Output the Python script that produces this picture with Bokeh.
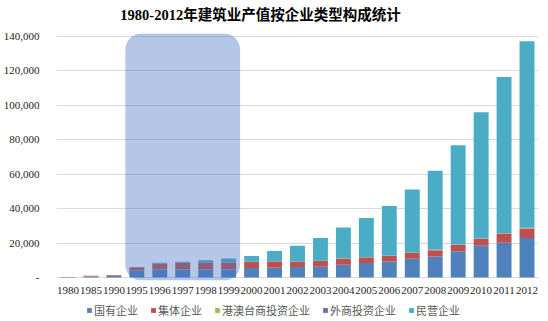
from bokeh.plotting import figure
from bokeh.layouts import column
from bokeh.models import (FactorRange, Range1d, Legend, LegendItem, BoxAnnotation, Label,
                          NumeralTickFormatter, FixedTicker)
from bokeh.embed import file_html
from bokeh.resources import INLINE

title_text = "1980-2012年建筑业产值按企业类型构成统计"

years = ["1980", "1985", "1990", "1995", "1996", "1997", "1998", "1999", "2000", "2001",
         "2002", "2003", "2004", "2005", "2006", "2007", "2008", "2009", "2010", "2011", "2012"]

state_owned = [200, 600, 800, 4050, 4650, 4700, 4700, 4600, 5450, 5650,
               6050, 6200, 7400, 8400, 9300, 10850, 12200, 15300, 18400, 20150, 22900]
collective = [90, 400, 550, 1900, 3500, 3700, 4000, 4100, 3650, 3650,
              3050, 3500, 3650, 3250, 3300, 3500, 3700, 3700, 3900, 5200, 5500]
hk_mo_tw = [0, 0, 0, 0, 0, 50, 50, 50, 50, 50,
            50, 50, 100, 100, 100, 100, 150, 150, 200, 300, 400]
foreign = [0, 0, 0, 0, 0, 50, 50, 50, 50, 50,
           50, 50, 100, 100, 100, 100, 150, 150, 150, 200, 300]
private = [0, 0, 0, 100, 400, 600, 1200, 2300, 3300, 5950,
           9300, 13200, 17750, 22700, 28700, 36500, 45800, 57500, 73350, 90600, 108100]

series_names = ["国有企业", "集体企业", "港澳台商投资企业", "外商投资企业", "民营企业"]
series_keys = ["state_owned", "collective", "hk_mo_tw", "foreign", "private"]
colors = ["#4f81bd", "#c0504d", "#9bbb59", "#8064a2", "#4bacc6"]
highlight_years = ["1995", "1999"]

y_max = 140000
y_step = 20000

data = dict(years=years, state_owned=state_owned, collective=collective,
            hk_mo_tw=hk_mo_tw, foreign=foreign, private=private)

BL, BR = 53, 10

# header strip with the title
p0 = figure(width=548, height=29, output_backend="svg", toolbar_location=None,
            x_range=Range1d(0, 1), y_range=Range1d(0, 1),
            x_axis_location=None, y_axis_location=None,
            min_border_left=BL, min_border_right=BR, min_border_top=0, min_border_bottom=0)
p0.outline_line_color = None
p0.grid.grid_line_color = None
p0.add_layout(Label(x=257 - BL, y=15, x_units="screen", y_units="screen", text=title_text,
                    text_align="center", text_baseline="middle",
                    text_font="Liberation Serif, Noto Sans CJK SC", text_font_size="14.5px",
                    text_font_style="bold", text_color="#000000"))

# 3 px of room above and below the value range (241 px for 140,000)
pad = y_max * 3 / 241

p = figure(width=548, height=271, x_range=FactorRange(*years, range_padding=0),
           y_range=Range1d(-pad, y_max + pad), output_backend="svg", toolbar_location=None,
           min_border_left=BL, min_border_right=BR, min_border_top=4, min_border_bottom=20)

renderers = p.vbar_stack(series_keys, x="years", width=0.65, color=colors, line_color=None,
                         source=data)

p.outline_line_color = None
p.xgrid.grid_line_color = None
p.ygrid.grid_line_color = "#d9d9d9"
p.ygrid.grid_line_width = 1

p.yaxis.ticker = FixedTicker(ticks=list(range(0, y_max + 1, y_step)))
p.yaxis.formatter = NumeralTickFormatter(format="0,0")
p.yaxis.major_label_overrides = {0: "-"}
p.yaxis.axis_line_color = None
p.yaxis.major_tick_line_color = None
p.yaxis.minor_tick_line_color = None
p.yaxis.major_label_standoff = 11
p.yaxis.major_label_text_font = "Liberation Serif"
p.yaxis.major_label_text_font_size = "11px"
p.yaxis.major_label_text_color = "#262626"

p.xaxis.axis_line_color = None
p.xaxis.major_tick_line_color = None
p.xaxis.minor_tick_line_color = None
p.xaxis.major_label_standoff = 0
p.xaxis.major_label_text_font = "Liberation Serif"
p.xaxis.major_label_text_font_size = "11px"
p.xaxis.major_label_text_color = "#262626"

left = years.index(highlight_years[0])
right = years.index(highlight_years[1]) + 1
box = BoxAnnotation(left=left, right=right,
                    fill_color="#4472c4", fill_alpha=0.4, line_color=None,
                    border_radius=16)
p.add_layout(box)

# legend strip below the chart
p2 = figure(width=548, height=21, output_backend="svg", toolbar_location=None,
            x_range=Range1d(0, 1), y_range=Range1d(0, 1),
            x_axis_location=None, y_axis_location=None,
            min_border_left=BL, min_border_right=BR, min_border_top=0, min_border_bottom=0)
p2.outline_line_color = None
p2.grid.grid_line_color = None
swatches = [p2.vbar(x=[-5], top=[-5], bottom=[-5], width=0.1, color=c, line_color=None)
            for c in colors]
legend = Legend(items=[LegendItem(label=n, renderers=[r]) for n, r in zip(series_names, swatches)],
                orientation="horizontal", location=(83 - BL, 3),
                glyph_width=6, glyph_height=6, label_standoff=2, spacing=12,
                padding=0, margin=0, border_line_color=None, background_fill_alpha=0,
                label_text_font="Noto Sans CJK SC", label_text_font_size="11px",
                label_text_color="#595959")
p2.add_layout(legend)

open("out.html", "w").write(file_html(column(p0, p, p2, spacing=0), INLINE))
